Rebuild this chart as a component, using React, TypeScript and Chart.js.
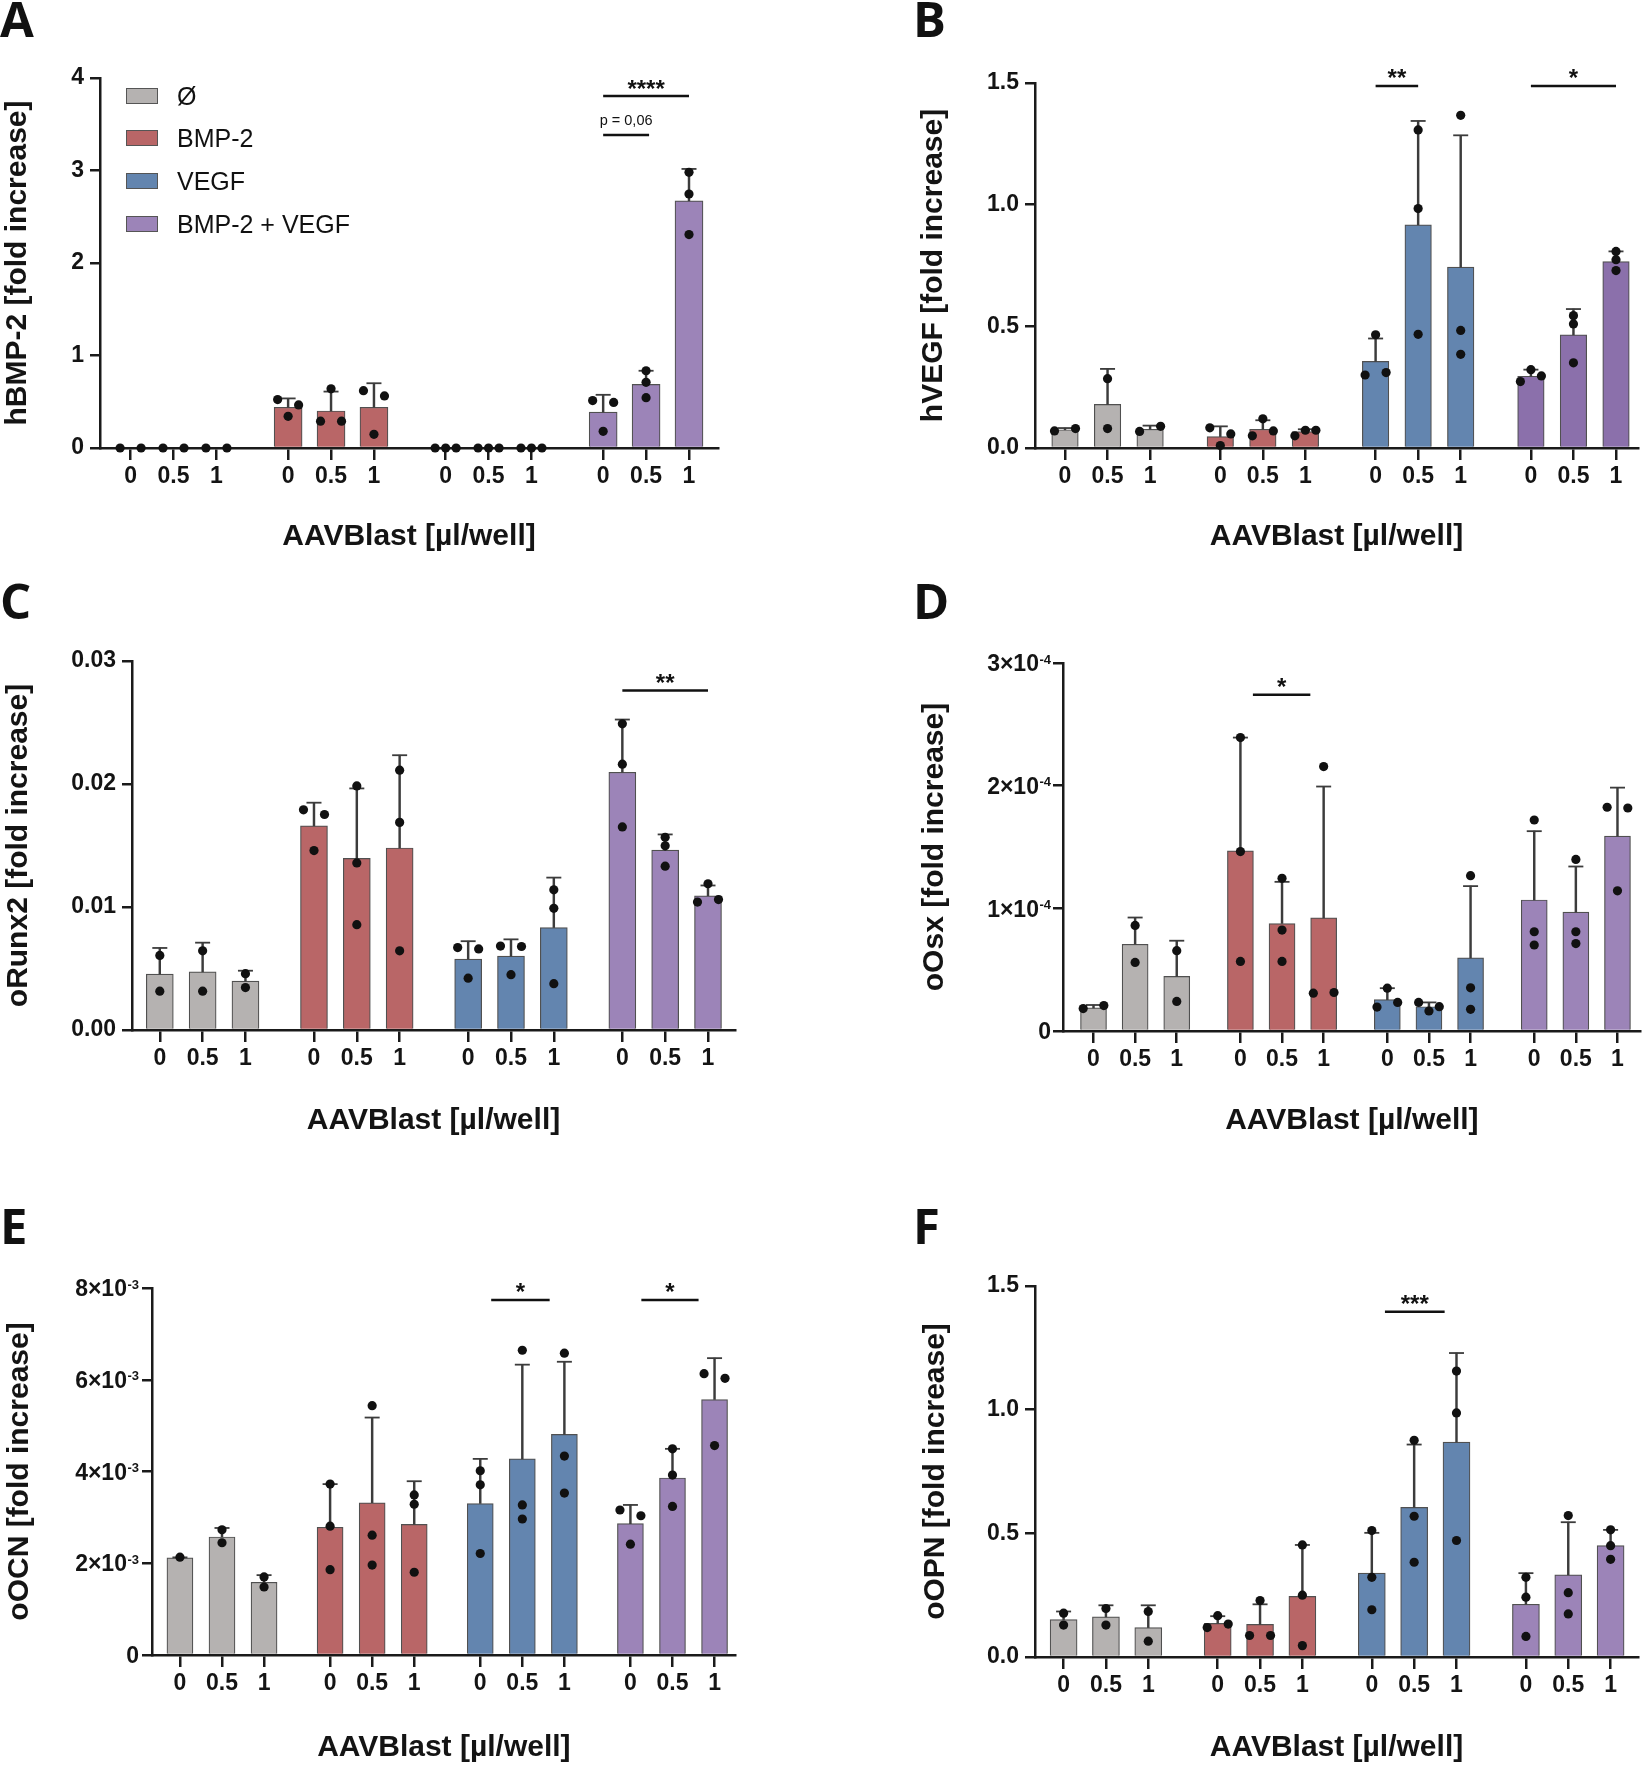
import React, { useEffect, useRef } from "react";
import Chart from "chart.js/auto";

// ---------- shared labels ----------
const DOSE_LABELS = ["0", "0.5", "1"];
const LEGEND_LABELS = ["Ø", "BMP-2", "VEGF", "BMP-2 + VEGF"];
const X_TITLE = "AAVBlast [µl/well]";

// ---------- Panel A: hBMP-2 ----------
const A_MEAN = [0, 0, 0, 0.44, 0.4, 0.44, 0, 0, 0, 0.388, 0.687, 2.672];
const A_SD = [0, 0, 0, 0.096, 0.21, 0.26, 0, 0, 0, 0.187, 0.148, 0.345];
const A_POINTS = [
  [0, 0], [0, 0], [0, 0],
  [0.524, 0.466, 0.342], [0.29, 0.64, 0.29], [0.62, 0.563, 0.148],
  [0, 0, 0], [0, 0, 0], [0, 0, 0],
  [0.513, 0.493, 0.18], [0.835, 0.71, 0.544], [2.98, 2.746, 2.307],
];
const A_Y_TICKS = [0, 1, 2, 3, 4];
const A_Y_LABELS = ["0", "1", "2", "3", "4"];
const A_BRACKETS = [
  { group: 3, from: 0, to: 2, y: 3.805, text: "****" },
  { group: 3, from: 0, to: 1.07, y: 3.384, text: "p = 0,06", kind: "p" },
];

// ---------- Panel B: hVEGF ----------
const B_MEAN = [0.075, 0.179, 0.077, 0.047, 0.077, 0.067, 0.356, 0.917, 0.743, 0.295, 0.465, 0.766];
const B_SD = [0.007, 0.146, 0.015, 0.042, 0.037, 0.01, 0.094, 0.427, 0.542, 0.027, 0.106, 0.042];
const B_POINTS = [
  [0.07, 0.08], [0.285, 0.08], [0.068, 0.089],
  [0.083, 0.058, 0.01], [0.05, 0.07, 0.12], [0.05, 0.073, 0.073],
  [0.3, 0.31, 0.465], [1.307, 0.984, 0.467], [1.367, 0.483, 0.385],
  [0.273, 0.322, 0.296], [0.544, 0.51, 0.35], [0.808, 0.774, 0.729],
];
const B_Y_TICKS = [0, 0.5, 1.0, 1.5];
const B_Y_LABELS = ["0.0", "0.5", "1.0", "1.5"];
const B_BRACKETS = [
  { group: 2, from: 0, to: 1, y: 1.488, text: "**" },
  { group: 3, from: 0, to: 2, y: 1.488, text: "*" },
];

// ---------- Panel C: oRunx2 ----------
const C_MEAN = [0.00455, 0.00473, 0.00397, 0.0166, 0.01395, 0.0148, 0.00577, 0.006, 0.00833, 0.02095, 0.01462, 0.01091];
const C_SD = [0.00212, 0.00237, 0.00085, 0.00188, 0.00569, 0.00754, 0.00145, 0.00137, 0.00406, 0.00429, 0.00128, 0.00084];
const C_POINTS = [
  [0.00606, 0.00316], [0.00644, 0.00316], [0.00458, 0.00345],
  [0.0179, 0.01752, 0.01459], [0.01984, 0.01358, 0.00856], [0.02112, 0.01688, 0.00644],
  [0.0067, 0.00659, 0.00421], [0.00682, 0.00679, 0.0045], [0.0114, 0.00989, 0.00377],
  [0.02489, 0.02161, 0.01651], [0.01567, 0.01497, 0.01332], [0.0104, 0.0106, 0.01189],
];
const C_Y_TICKS = [0, 0.01, 0.02, 0.03];
const C_Y_LABELS = ["0.00", "0.01", "0.02", "0.03"];
const C_BRACKETS = [{ group: 3, from: 0, to: 2, y: 0.0276, text: "**" }];

// ---------- Panel D: oOsx ----------
const D_MEAN = [0.189e-4, 0.707e-4, 0.445e-4, 1.469e-4, 0.876e-4, 0.922e-4, 0.256e-4, 0.198e-4, 0.596e-4, 1.068e-4, 0.969e-4, 1.589e-4];
const D_SD = [0.023e-4, 0.218e-4, 0.291e-4, 0.923e-4, 0.34e-4, 1.071e-4, 0.093e-4, 0.035e-4, 0.585e-4, 0.561e-4, 0.372e-4, 0.395e-4];
const D_POINTS = [
  [0.183e-4, 0.207e-4], [0.861e-4, 0.559e-4], [0.655e-4, 0.241e-4],
  [2.392e-4, 1.463e-4, 0.567e-4], [1.245e-4, 0.823e-4, 0.567e-4], [2.156e-4, 0.308e-4, 0.314e-4],
  [0.195e-4, 0.233e-4, 0.349e-4], [0.233e-4, 0.163e-4, 0.198e-4], [1.266e-4, 0.352e-4, 0.177e-4],
  [1.72e-4, 0.809e-4, 0.701e-4], [1.399e-4, 0.809e-4, 0.713e-4], [1.824e-4, 1.818e-4, 1.143e-4],
];
const D_Y_TICKS = [0, 1e-4, 2e-4, 3e-4];
const D_Y_LABELS = ["0", "1×10", "2×10", "3×10"];
const D_Y_EXP = ["", "-4", "-4", "-4"];
const D_BRACKETS = [{ group: 1, from: 0.3, to: 1.68, y: 2.742e-4, text: "*" }];

// ---------- Panel E: oOCN ----------
const E_MEAN = [2.118e-3, 2.573e-3, 1.584e-3, 2.784e-3, 3.318e-3, 2.847e-3, 3.302e-3, 4.275e-3, 4.808e-3, 2.863e-3, 3.859e-3, 5.569e-3];
const E_SD = [0.01e-3, 0.196e-3, 0.157e-3, 0.941e-3, 1.858e-3, 0.941e-3, 0.973e-3, 2.054e-3, 1.584e-3, 0.408e-3, 0.635e-3, 0.902e-3];
const E_POINTS = [
  [2.133e-3], [2.729e-3, 2.447e-3], [1.702e-3, 1.482e-3],
  [3.725e-3, 2.808e-3, 1.859e-3], [5.435e-3, 2.612e-3, 1.961e-3], [3.49e-3, 3.286e-3, 1.804e-3],
  [4.016e-3, 3.71e-3, 2.212e-3], [6.643e-3, 3.271e-3, 2.965e-3], [6.58e-3, 4.337e-3, 3.529e-3],
  [3.161e-3, 3.035e-3, 2.416e-3], [4.494e-3, 3.922e-3, 3.239e-3], [6.133e-3, 6.031e-3, 4.565e-3],
];
const E_Y_TICKS = [0, 2e-3, 4e-3, 6e-3, 8e-3];
const E_Y_LABELS = ["0", "2×10", "4×10", "6×10", "8×10"];
const E_Y_EXP = ["", "-3", "-3", "-3", "-3"];
const E_BRACKETS = [
  { group: 2, from: 0.26, to: 1.65, y: 7.74e-3, text: "*" },
  { group: 3, from: 0.26, to: 1.62, y: 7.74e-3, text: "*" },
];

// ---------- Panel F: oOPN ----------
const F_MEAN = [0.151, 0.162, 0.119, 0.136, 0.132, 0.245, 0.339, 0.605, 0.869, 0.213, 0.332, 0.45];
const F_SD = [0.033, 0.047, 0.09, 0.029, 0.081, 0.208, 0.163, 0.254, 0.36, 0.126, 0.213, 0.064];
const F_POINTS = [
  [0.177, 0.129], [0.196, 0.129], [0.184, 0.064],
  [0.167, 0.119, 0.133], [0.228, 0.087, 0.087], [0.453, 0.25, 0.046],
  [0.511, 0.322, 0.191], [0.876, 0.569, 0.383], [1.156, 0.987, 0.471],
  [0.322, 0.242, 0.083], [0.572, 0.26, 0.174], [0.514, 0.45, 0.395],
];
const F_Y_TICKS = [0, 0.5, 1.0, 1.5];
const F_Y_LABELS = ["0.0", "0.5", "1.0", "1.5"];
const F_BRACKETS = [{ group: 2, from: 0.31, to: 1.72, y: 1.396, text: "***" }];

// ---------- styles ----------
const FONT = "'Liberation Sans', Arial, Helvetica, sans-serif";
const AXIS = "#1a1a1a";
const TXT = "#141414";
const GRAY = "#b5b2b1";
const RED = "#b96667";
const BLUE = "#6385af";
const PURPLE = "#9c84b8";
const PURPLE_B = "#8b70ab";
const TICK_FONT_SIZE = 23;

type Bracket = { group: number; from: number; to: number; y: number; text: string; kind?: string };
type PanelCfg = {
  key: string;
  letter: string;
  letterPos: [number, number];
  canvas: [number, number, number, number];
  area: { L: number; T: number; R: number; B: number };
  firstTick: number;
  lastTick: number;
  G: number;
  barW: number;
  yTickPad: number;
  yTitlePad: number;
  xTitlePad: number;
  yTitle: string;
  mean: number[];
  sd: number[];
  points: number[][];
  yTicks: number[];
  yLabels: string[];
  yExp?: string[];
  brackets: Bracket[];
  colors: string[];
};

const PANELS: PanelCfg[] = [
  {
    key: "A", letter: "A", letterPos: [0, 19], canvas: [0, 40, 730, 525],
    area: { L: 100, T: 78, R: 718, B: 448 }, firstTick: 130.6, lastTick: 689, G: 3.67, barW: 28,
    yTickPad: 6, yTitlePad: 2.5, xTitlePad: 13, yTitle: "hBMP-2 [fold increase]",
    mean: A_MEAN, sd: A_SD, points: A_POINTS, yTicks: A_Y_TICKS, yLabels: A_Y_LABELS, brackets: A_BRACKETS,
    colors: [GRAY, RED, BLUE, PURPLE],
  },
  {
    key: "B", letter: "B", letterPos: [913, 19], canvas: [900, 40, 750, 525],
    area: { L: 1035, T: 83, R: 1638, B: 448 }, firstTick: 1065, lastTick: 1616, G: 3.65, barW: 26.5,
    yTickPad: 6, yTitlePad: 18.5, xTitlePad: 13, yTitle: "hVEGF [fold increase]",
    mean: B_MEAN, sd: B_SD, points: B_POINTS, yTicks: B_Y_TICKS, yLabels: B_Y_LABELS, brackets: B_BRACKETS,
    colors: [GRAY, RED, BLUE, PURPLE_B],
  },
  {
    key: "C", letter: "C", letterPos: [0, 601], canvas: [0, 620, 745, 520],
    area: { L: 132, T: 661, R: 735, B: 1030 }, firstTick: 159.8, lastTick: 708, G: 3.6, barW: 27,
    yTickPad: 6, yTitlePad: 3.6, xTitlePad: 4, yTitle: "oRunx2 [fold increase]",
    mean: C_MEAN, sd: C_SD, points: C_POINTS, yTicks: C_Y_TICKS, yLabels: C_Y_LABELS, brackets: C_BRACKETS,
    colors: [GRAY, RED, BLUE, PURPLE],
  },
  {
    key: "D", letter: "D", letterPos: [913, 601], canvas: [900, 620, 750, 520],
    area: { L: 1063, T: 663, R: 1650, B: 1031 }, firstTick: 1094, lastTick: 1626.4, G: 3.53, barW: 26,
    yTickPad: 2, yTitlePad: 19.7, xTitlePad: 4, yTitle: "oOsx [fold increase]",
    mean: D_MEAN, sd: D_SD, points: D_POINTS, yTicks: D_Y_TICKS, yLabels: D_Y_LABELS, yExp: D_Y_EXP,
    brackets: D_BRACKETS, colors: [GRAY, RED, BLUE, PURPLE],
  },
  {
    key: "E", letter: "E", letterPos: [0, 1226], canvas: [0, 1240, 745, 525],
    area: { L: 152, T: 1288, R: 737, B: 1655 }, firstTick: 180, lastTick: 715.8, G: 3.57, barW: 26,
    yTickPad: 3, yTitlePad: 4.8, xTitlePad: 2, yTitle: "oOCN [fold increase]",
    mean: E_MEAN, sd: E_SD, points: E_POINTS, yTicks: E_Y_TICKS, yLabels: E_Y_LABELS, yExp: E_Y_EXP,
    brackets: E_BRACKETS, colors: [GRAY, RED, BLUE, PURPLE],
  },
  {
    key: "F", letter: "F", letterPos: [913, 1226], canvas: [900, 1240, 750, 525],
    area: { L: 1035, T: 1286, R: 1638, B: 1657 }, firstTick: 1063.6, lastTick: 1610.6, G: 3.64, barW: 27,
    yTickPad: 6, yTitlePad: 21, xTitlePad: 2, yTitle: "oOPN [fold increase]",
    mean: F_MEAN, sd: F_SD, points: F_POINTS, yTicks: F_Y_TICKS, yLabels: F_Y_LABELS, brackets: F_BRACKETS,
    colors: [GRAY, RED, BLUE, PURPLE],
  },
];

// spread overlapping replicate dots horizontally (like GraphPad scatter)
function jitter(values: number[], thr: number, s: number): number[] {
  const n = values.length;
  const idx = values.map((_, i) => i).sort((a, b) => values[a] - values[b]);
  const cl = new Array(n).fill(0);
  let c = 0;
  for (let k = 0; k < n; k++) {
    if (k > 0 && values[idx[k]] - values[idx[k - 1]] >= thr) c++;
    cl[idx[k]] = c;
  }
  const offs = new Array(n).fill(0);
  for (let cc = 0; cc <= c; cc++) {
    const members = values.map((_, i) => i).filter((i) => cl[i] === cc);
    const m = members.length;
    members.forEach((i, k) => {
      offs[i] = m > 1 ? -s + (2 * s * k) / (m - 1) : 0;
    });
  }
  return offs;
}

const Y_TICK_LEN = 10;

function buildConfig(p: PanelCfg): any {
  const [cx, cy, cw, ch] = p.canvas;
  const L = p.area.L - cx;
  const T = p.area.T - cy;
  const R = p.area.R - cx;
  const B = p.area.B - cy;
  const span = 3 * p.G + 2;
  const unit = (p.lastTick - p.firstTick) / span;
  const xMin = -(p.firstTick - p.area.L) / unit;
  const xMax = xMin + (p.area.R - p.area.L) / unit;
  const yMax = p.yTicks[p.yTicks.length - 1];
  const pxPerVal = (B - T) / yMax;
  const thr = 7.5 / pxPerVal;
  const s = 10.5 / unit;
  const pos = (k: number) => Math.floor(k / 3) * p.G + (k % 3);
  const positions = p.mean.map((_, k) => pos(k));

  const datasets: any[] = [];
  for (let g = 0; g < 4; g++) {
    datasets.push({
      type: "bar",
      data: [0, 1, 2].map((i) => ({ x: pos(g * 3 + i), y: p.mean[g * 3 + i] })),
      backgroundColor: p.colors[g],
      borderColor: "#505050",
      borderWidth: 1.2,
      barThickness: p.barW,
      grouped: false,
      order: 5,
    });
  }
  const errIdx = p.mean.map((_, k) => k).filter((k) => p.sd[k] > 0);
  datasets.push({
    type: "bar",
    data: errIdx.map((k) => ({ x: pos(k), y: [p.mean[k], p.mean[k] + p.sd[k]] })),
    backgroundColor: "#3c3c3c",
    borderWidth: 0,
    barThickness: 1.8,
    grouped: false,
    order: 4,
  });
  datasets.push({
    type: "scatter",
    data: errIdx.map((k) => ({ x: pos(k), y: p.mean[k] + p.sd[k] })),
    pointStyle: "line",
    pointRadius: 7.5,
    borderColor: "#3c3c3c",
    borderWidth: 1.8,
    clip: false,
    order: 3,
  });
  const dots: { x: number; y: number }[] = [];
  p.points.forEach((vals, k) => {
    const offs = jitter(vals, thr, s);
    vals.forEach((v, j) => dots.push({ x: pos(k) + offs[j], y: v }));
  });
  datasets.push({
    type: "scatter",
    data: dots,
    pointStyle: "circle",
    pointRadius: 4.6,
    backgroundColor: "#111111",
    borderWidth: 0,
    clip: false,
    order: 1,
  });

  const bracketPlugin = {
    id: "brackets" + p.key,
    afterDatasetsDraw(chart: any) {
      const xs = chart.scales.x;
      const ys = chart.scales.y;
      const ctx = chart.ctx;
      ctx.save();
      for (const b of p.brackets) {
        const x1 = xs.getPixelForValue(b.group * p.G + b.from);
        const x2 = xs.getPixelForValue(b.group * p.G + b.to);
        const y = ys.getPixelForValue(b.y);
        ctx.strokeStyle = "#111";
        ctx.lineWidth = 2.5;
        ctx.beginPath();
        ctx.moveTo(x1, y);
        ctx.lineTo(x2, y);
        ctx.stroke();
        ctx.fillStyle = "#111";
        ctx.textAlign = "center";
        ctx.textBaseline = "alphabetic";
        if (b.kind === "p") {
          ctx.font = `14.5px ${FONT}`;
          ctx.fillText(b.text, (x1 + x2) / 2, y - 10);
        } else {
          ctx.font = `bold 24px ${FONT}`;
          ctx.fillText(b.text, (x1 + x2) / 2, y + 0.5);
        }
      }
      // y tick labels with superscript exponents (e.g. 3×10^-4)
      if (p.yExp) {
        const right = ys.right - Y_TICK_LEN - p.yTickPad;
        p.yTicks.forEach((v, i) => {
          const y = ys.getPixelForValue(v);
          const exp = p.yExp![i];
          ctx.fillStyle = TXT;
          ctx.textAlign = "right";
          ctx.textBaseline = "alphabetic";
          let r = right;
          if (exp) {
            ctx.font = `bold 13px ${FONT}`;
            const w = ctx.measureText(exp).width;
            ctx.fillText(exp, right, y + 0.5);
            r = right - w - 0.5;
          }
          ctx.font = `bold ${TICK_FONT_SIZE}px ${FONT}`;
          ctx.fillText(p.yLabels[i], r, y + 0.358 * TICK_FONT_SIZE);
        });
      }
      ctx.restore();
    },
  };

  return {
    type: "bar",
    data: { datasets },
    plugins: [bracketPlugin],
    options: {
      responsive: false,
      maintainAspectRatio: false,
      animation: false,
      devicePixelRatio: 1,
      events: [],
      layout: { padding: { left: 0, top: T, right: cw - R, bottom: 0 } },
      plugins: { legend: { display: false }, tooltip: { enabled: false } },
      scales: {
        x: {
          type: "linear",
          min: xMin,
          max: xMax,
          offset: false,
          z: 1,
          grid: {
            display: true,
            drawOnChartArea: false,
            drawTicks: true,
            tickLength: 12,
            color: AXIS,
            lineWidth: 2.5,
            offset: false,
          },
          border: { display: true, color: AXIS, width: 2.5 },
          ticks: {
            autoSkip: false,
            maxRotation: 0,
            minRotation: 0,
            padding: 2.5,
            color: TXT,
            font: { family: FONT, size: TICK_FONT_SIZE, weight: "bold" },
            callback: (_v: any, i: number) => DOSE_LABELS[i % 3],
          },
          afterBuildTicks: (sc: any) => {
            sc.ticks = positions.map((v) => ({ value: v }));
          },
          afterFit: (sc: any) => {
            sc.height = ch - B;
          },
          title: {
            display: true,
            text: X_TITLE,
            color: TXT,
            font: { family: FONT, size: 30, weight: "bold", lineHeight: 1 },
            padding: { top: 0, bottom: p.xTitlePad },
          },
        },
        y: {
          type: "linear",
          min: 0,
          max: yMax,
          grid: {
            display: true,
            drawOnChartArea: false,
            drawTicks: true,
            tickLength: Y_TICK_LEN,
            color: AXIS,
            lineWidth: 2.5,
          },
          border: { display: true, color: AXIS, width: 2.5 },
          ticks: {
            padding: p.yTickPad,
            color: TXT,
            font: { family: FONT, size: TICK_FONT_SIZE, weight: "bold" },
            callback: (_v: any, i: number) => (p.yExp ? "" : p.yLabels[i]),
          },
          afterBuildTicks: (sc: any) => {
            sc.ticks = p.yTicks.map((v) => ({ value: v }));
          },
          afterFit: (sc: any) => {
            sc.width = L;
          },
          title: {
            display: true,
            text: p.yTitle,
            color: TXT,
            font: { family: FONT, size: 30, weight: "bold", lineHeight: 1 },
            padding: { top: p.yTitlePad, bottom: 0 },
          },
        },
      },
    },
  };
}

function PanelChart({ p }: { p: PanelCfg }) {
  const ref = useRef<HTMLCanvasElement | null>(null);
  useEffect(() => {
    if (!ref.current) return;
    const chart = new Chart(ref.current, buildConfig(p));
    return () => chart.destroy();
  }, [p]);
  const [x, y, w, h] = p.canvas;
  return (
    <canvas
      ref={ref}
      width={w}
      height={h}
      style={{ position: "absolute", left: x, top: y, width: w, height: h }}
    />
  );
}

const LEGEND_COLORS = [GRAY, RED, BLUE, PURPLE];
const LEGEND_ROWS_Y = [95.5, 137.5, 180.5, 223.5];

export default function App() {
  return (
    <div
      style={{
        position: "absolute",
        left: 0,
        top: 0,
        width: 1650,
        height: 1765,
        background: "#ffffff",
        overflow: "hidden",
      }}
    >
      {PANELS.map((p) => (
        <PanelChart key={p.key} p={p} />
      ))}
      {PANELS.map((p) => (
        <div
          key={"L" + p.key}
          style={{
            position: "absolute",
            left: p.letterPos[0],
            top: p.letterPos[1] - 30 - 1.5,
            height: 60,
            lineHeight: "60px",
            fontFamily: "'Open Sans', 'Liberation Sans', Arial, sans-serif",
            fontWeight: 700,
            fontSize: 49,
            color: "#111",
          }}
        >
          {p.letter}
        </div>
      ))}
      {LEGEND_LABELS.map((lab, i) => (
        <React.Fragment key={"leg" + i}>
          <div
            style={{
              position: "absolute",
              left: 126,
              top: LEGEND_ROWS_Y[i] - 8,
              width: 32,
              height: 16,
              boxSizing: "border-box",
              background: LEGEND_COLORS[i],
              border: "1.2px solid #555",
            }}
          />
          <div
            style={{
              position: "absolute",
              left: 177,
              top: LEGEND_ROWS_Y[i] - 15,
              height: 30,
              lineHeight: "30px",
              fontFamily: FONT,
              fontSize: 25,
              color: "#111",
              whiteSpace: "nowrap",
            }}
          >
            {lab}
          </div>
        </React.Fragment>
      ))}
    </div>
  );
}
